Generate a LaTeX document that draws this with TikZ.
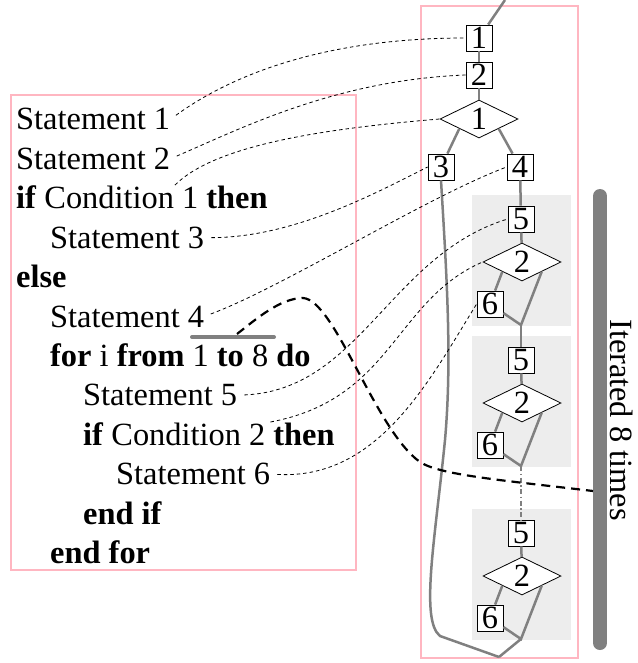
\documentclass[tikz,border=0pt]{standalone}
\usepackage{fontspec}
\setmainfont{Liberation Serif}
\usepackage{tikz}
\usetikzlibrary{shapes.geometric}
\definecolor{gray50}{gray}{0.5}
\definecolor{gray93}{gray}{0.93}
\definecolor{framepink}{RGB}{255,182,193}

\begin{document}
\begin{tikzpicture}[x=1pt, y=-1pt,
    font=\fontsize{32.4}{39}\selectfont,
    box/.style={draw=black, line width=0.8pt, fill=white, minimum size=26pt, inner sep=0pt},
    cond/.style={diamond, draw=black, line width=0.8pt, fill=white, minimum width=78pt, minimum height=38pt, inner sep=0pt},
    flow/.style={gray50, line width=2.5pt},
    link/.style={black, line width=0.8pt, dash pattern=on 3.5pt off 3pt, shorten <=7pt},
    code/.style={anchor=base west, inner sep=0pt}]

  \useasboundingbox (0, 0) rectangle (637, 663);

  % shaded loop bodies
  \foreach \t in {195, 336, 509} {
    \fill[gray93] (472, \t) rectangle (571, \t + 131);
  }

  \draw[framepink, line width=1.5pt] (11, 95) rectangle (356, 570);
  \draw[framepink, line width=1.5pt] (421, 6) rectangle (578, 658);

  % pseudo code
  \node[code] (s1) at (16, 130) {Statement 1};
  \node[code] (s2) at (16, 169.4) {Statement 2};
  \node[code] (if1) at (16, 208.8) {\textbf{if} Condition 1 \textbf{then}};
  \node[code] (s3) at (50, 248.2) {Statement 3};
  \node[code] (else) at (16, 287.6) {\textbf{else}};
  \node[code] (s4) at (50, 327) {Statement 4};
  \node[code] (for) at (50, 366.4) {\textbf{for} i \textbf{from} 1 \textbf{to} 8 \textbf{do}};
  \node[code] (s5) at (83, 405.8) {Statement 5};
  \node[code] (if2) at (83, 445.2) {\textbf{if} Condition 2 \textbf{then}};
  \node[code] (s6) at (116, 484.6) {Statement 6};
  \node[code] (endif) at (83, 524) {\textbf{end if}};
  \node[code] (endfor) at (50, 563.4) {\textbf{end for}};

  % flow graph
  \node[box] (b1) at (479, 38) {1};
  \node[box] (b2) at (479, 75) {2};
  \node[cond] (d1) at (479, 119) {1};
  \node[box] (b3) at (441, 167) {3};
  \node[box] (b4) at (520, 167) {4};

  \foreach \t/\k in {195/a,336/b,509/c} {
    \node[box] (five\k) at (521, \t + 24) {5};
    \node[cond] (two\k) at (522, \t + 67) {2};
    \node[box] (six\k) at (490, \t + 109) {6};
    \coordinate (join\k) at (521, \t + 130);
    \draw[flow] (five\k) -- (two\k);
    \draw[flow] (two\k.south west) -- (six\k);
    \draw[flow] (two\k.south east) -- (join\k) -- (six\k);
  }

  \coordinate (entry) at (505, 0);
  \coordinate (exit) at (499, 657);
  \draw[flow] (entry) -- (b1);
  \draw[flow] (b1) -- (b2);
  \draw[flow] (b2) -- (d1);
  \draw[flow] (d1.south west) -- (b3);
  \draw[flow] (d1.south east) -- (b4);
  \draw[flow] (b4) -- (fivea);
  \draw[flow] (joina) -- (fiveb);
  \draw[flow, dash pattern=on 5pt off 2.5pt on 1.5pt off 2.5pt] (joinb) -- (fivec);
  \draw[flow] (joinc) -- (exit);
  \draw[flow] (b3.south) .. controls (447, 280) and (452, 360) .. (445, 440)
    .. controls (435, 540) and (420, 620) .. (440, 636) -- (exit);

  % iteration marker
  \draw[gray50, line width=14pt, line cap=round] (600, 196) -- (600, 643);
  \node[rotate=-90] (iter) at (622, 420) {Iterated 8 times};

  \draw[gray50, line width=4pt, line cap=round] (192, 337) -- (274, 337);
  \coordinate (loop) at (237, 334);
  \coordinate (hit) at (593, 491);
  \draw[black, line width=2.2pt, dash pattern=on 9pt off 6pt] (loop)
    .. controls (255, 320) and (280, 298) .. (303, 298)
    .. controls (335, 300) and (375, 430) .. (420, 462)
    .. controls (440, 475) and (500, 480) .. (hit);

  % statement to node links
  \draw[link] (s1.east) .. controls +(55, -40) and +(-150, 0) .. (b1.west);
  \draw[link] (s2.east) .. controls +(70, -30) and +(-130, 5) .. (b2.west);
  \draw[link, shorten <=1pt] (if1.20) .. controls +(40, -40) and +(-120, 10) .. (d1.west);
  \draw[link] (s3.east) .. controls +(90, 0) and +(-50, 25) .. (b3.west);
  \draw[link] (s4.east) .. controls +(80, -30) and +(-80, 30) .. (b4.west);
  \draw[link] (s5.east) .. controls +(123, -5) and +(-118, 36) .. (fivea.west);
  \draw[link, shorten <=1pt] (if2.11) .. controls +(123, -23) and +(-88, 38) .. (twoa.west);
  \draw[link] (s6.east) .. controls +(108, 6) and +(-47, 76) .. (sixa.west);

\end{tikzpicture}
\end{document}
